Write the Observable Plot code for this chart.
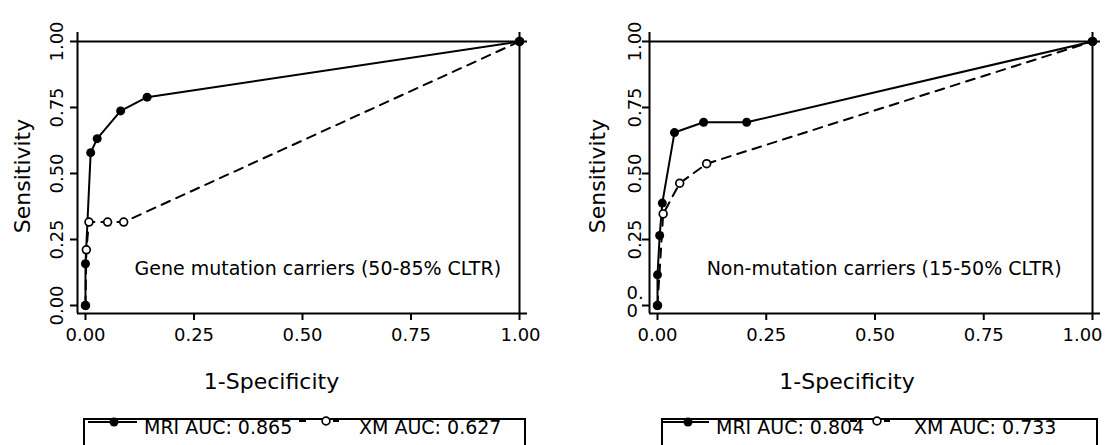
<!DOCTYPE html>
<html>
<head>
<meta charset="utf-8">
<script src="https://cdn.jsdelivr.net/npm/d3@7"></script>
<script src="https://cdn.jsdelivr.net/npm/@observablehq/plot@0.6"></script>
<style>
  body { margin: 0; background: white; }
  #wrap { position: relative; width: 1106px; height: 445px; overflow: hidden; background: white; font-family: "DejaVu Sans", sans-serif; }
  #wrap > svg, #wrap > figure { position: absolute; top: 0; margin: 0; }
</style>
</head>
<body>
<div id="wrap"></div>
<script>
// ---- data ----
const xTicks = [0, 0.25, 0.5, 0.75, 1];
const yTicks = [0, 0.25, 0.5, 0.75, 1];
const yTickLabels = ["0.00", "0.25", "0.50", "0.75", "1.00"];

const geneMriFpr = [0, 0, 0.012, 0.027, 0.081, 0.142, 1];
const geneMriTpr = [0, 0.158, 0.579, 0.632, 0.737, 0.789, 1];
const geneXmFpr = [0, 0.002, 0.008, 0.051, 0.088, 1];
const geneXmTpr = [0, 0.211, 0.316, 0.316, 0.316, 1];

const nonMriFpr = [0, 0, 0.005, 0.011, 0.039, 0.106, 0.205, 1];
const nonMriTpr = [0, 0.116, 0.265, 0.388, 0.655, 0.694, 0.694, 1];
const nonXmFpr = [0, 0.013, 0.051, 0.113, 1];
const nonXmTpr = [0, 0.347, 0.463, 0.537, 1];

const panelNotes = ["Gene mutation carriers (50-85% CLTR)", "Non-mutation carriers (15-50% CLTR)"];
const legendTexts = [["MRI AUC: 0.865", "XM AUC: 0.627"], ["MRI AUC: 0.804", "XM AUC: 0.733"]];
const xTitle = "1-Specificity";
const yTitle = "Sensitivity";

const XD = [-0.0184, 1.0184];
const YD = [-0.0303, 1.034];
const fmt = d3.format(".2f");

const rows = (xs, ys) => xs.map((x, i) => ({x, y: ys[i]}));

function panel({mri, xm, note, noteX, ml, mr, tickDx, sensDx, titleDx, special}) {
  const marks = [
    Plot.ruleY([1], {stroke: "black", strokeWidth: 2}),
    Plot.ruleX([1], {stroke: "black", strokeWidth: 2}),
    Plot.ruleX([XD[0]], {stroke: "black", strokeWidth: 2}),
    Plot.ruleY([YD[0]], {stroke: "black", strokeWidth: 2}),
    Plot.axisX(xTicks, {tickSize: 7, tickFormat: () => "", strokeWidth: 2, label: null}),
    Plot.text(xTicks.slice(0, -1), {x: d => d, y: YD[0], dy: 15, text: fmt, lineAnchor: "top", textAnchor: "middle", fontSize: 18}),
    Plot.text(xTicks.slice(-1), {x: d => d, y: YD[0], dy: 15, dx: special ? -10 : 1, text: fmt, lineAnchor: "top", textAnchor: "middle", fontSize: 18}),
    Plot.axisY(yTicks, {tickSize: 7, tickFormat: () => "", strokeWidth: 2, label: null}),
    Plot.text(special ? yTicks.slice(1) : yTicks, {
      x: XD[0], y: d => d, text: d => yTickLabels[yTicks.indexOf(d)],
      rotate: -90, dx: tickDx, textAnchor: "middle", lineAnchor: "middle", fontSize: 18
    }),
    Plot.text([yTitle], {frameAnchor: "left", text: d => d, rotate: -90, dx: sensDx, dy: 3, textAnchor: "middle", lineAnchor: "middle", fontSize: 22}),
    Plot.text([xTitle], {frameAnchor: "bottom", text: d => d, dx: titleDx, dy: 68, textAnchor: "middle", lineAnchor: "middle", fontSize: 22}),
    Plot.text([note], {x: noteX, y: 0.139, text: d => d, textAnchor: "start", lineAnchor: "middle", fontSize: 19}),
    Plot.line(xm, {x: "x", y: "y", stroke: "black", strokeWidth: 2, strokeDasharray: "9,7"}),
    Plot.line(mri, {x: "x", y: "y", stroke: "black", strokeWidth: 2}),
    Plot.dot(xm, {x: "x", y: "y", r: 3.9, fill: "white", stroke: "black", strokeWidth: 1.7}),
    Plot.dot(mri, {x: "x", y: "y", r: 4.5, fill: "black"})
  ];
  if (special) {
    marks.push(Plot.text([0], {x: XD[0], y: 0, text: () => "0.\n0", dx: -23, dy: -3, lineHeight: 1, textAnchor: "start", lineAnchor: "middle", fontSize: 18}));
  }
  return Plot.plot({
    width: 553, height: 445,
    marginLeft: ml, marginRight: mr, marginTop: 32, marginBottom: 445 - 313,
    x: {domain: XD},
    y: {domain: YD},
    style: {fontFamily: "DejaVu Sans", fontSize: "18px", background: "white", color: "black", overflow: "visible"},
    marks
  });
}

const wrap = document.getElementById("wrap");
const p1 = panel({mri: rows(geneMriFpr, geneMriTpr), xm: rows(geneXmFpr, geneXmTpr), note: panelNotes[0], noteX: 0.113, ml: 77, mr: 26, tickDx: -20, sensDx: -55, titleDx: -31, special: false});
p1.style.left = "0px";
const p2 = panel({mri: rows(nonMriFpr, nonMriTpr), xm: rows(nonXmFpr, nonXmTpr), note: panelNotes[1], noteX: 0.113, ml: 96, mr: 6, tickDx: -14, sensDx: -52, titleDx: -28, special: true});
p2.style.left = "553px";
wrap.appendChild(p1);
wrap.appendChild(p2);

// ---- legends ----
const leg = d3.create("svg").attr("width", 1106).attr("height", 445).style("left", "0px").style("pointer-events", "none");
const legendBoxes = [
  {x: 84, w: 441, line: [88, 137], dot: 114, t1: 144, circ: 326, t2: 359},
  {x: 662, w: 435, line: [663, 709], dot: 688, t1: 716, circ: 877, t2: 914}
];
legendBoxes.forEach((b, i) => {
  const g = leg.append("g");
  g.append("rect").attr("x", b.x).attr("y", 419).attr("width", b.w).attr("height", 80)
    .attr("fill", "none").attr("stroke", "black").attr("stroke-width", 2);
  g.append("line").attr("x1", b.line[0]).attr("x2", b.line[1]).attr("y1", 422).attr("y2", 422)
    .attr("stroke", "black").attr("stroke-width", 2);
  g.append("circle").attr("cx", b.dot).attr("cy", 422).attr("r", 4.5).attr("fill", "black");
  g.append("text").attr("x", b.t1).attr("y", 433.5).attr("font-size", 19).attr("font-family", "DejaVu Sans").text(legendTexts[i][0]);
  g.append("line").attr("x1", b.circ - 27).attr("x2", b.circ - 20).attr("y1", 421).attr("y2", 421).attr("stroke", "black").attr("stroke-width", 2);
  g.append("line").attr("x1", b.circ + 7).attr("x2", b.circ + 13).attr("y1", 421).attr("y2", 421).attr("stroke", "black").attr("stroke-width", 2);
  g.append("circle").attr("cx", b.circ).attr("cy", 421).attr("r", 3.9).attr("fill", "white").attr("stroke", "black").attr("stroke-width", 1.7);
  g.append("text").attr("x", b.t2).attr("y", 433.5).attr("font-size", 19).attr("font-family", "DejaVu Sans").text(legendTexts[i][1]);
});
wrap.appendChild(leg.node());
</script>
</body>
</html>
